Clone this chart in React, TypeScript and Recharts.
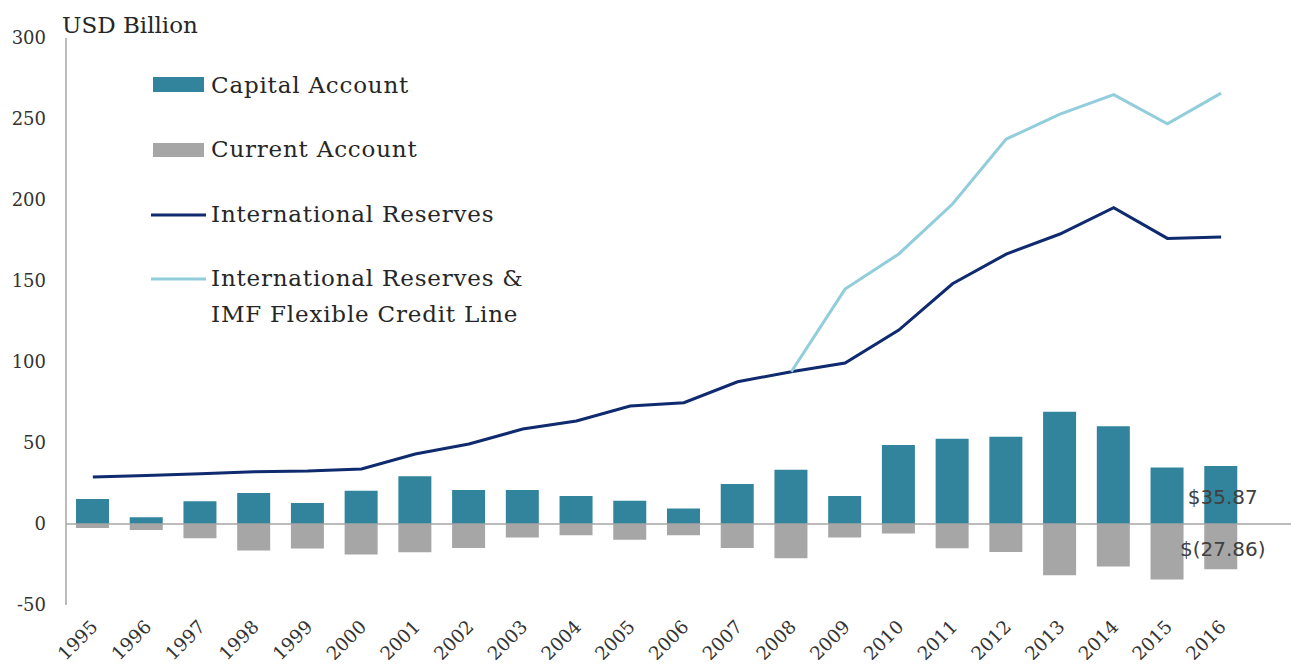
import { ComposedChart, Bar, Line, XAxis, YAxis, ReferenceLine, Legend } from 'recharts'

const years = ['1995', '1996', '1997', '1998', '1999', '2000', '2001', '2002', '2003', '2004', '2005', '2006', '2007', '2008', '2009', '2010', '2011', '2012', '2013', '2014', '2015', '2016']
const capitalAccount = [15.4, 4.1, 14, 19.1, 13, 20.6, 29.4, 21, 21, 17.3, 14.4, 9.5, 24.7, 33.5, 17.3, 48.8, 52.7, 53.9, 69.3, 60.3, 34.8, 35.87]
const currentAccount = [-2.5, -3.7, -8.8, -16.3, -15.2, -18.9, -17.5, -14.8, -8.4, -7, -9.7, -7, -14.8, -21.2, -8.4, -5.8, -15, -17.3, -31.7, -26.3, -34.2, -27.86]
const reserves = [29, 30, 31, 32.3, 32.7, 34, 43.2, 49.4, 58.6, 63.6, 72.8, 74.9, 87.8, 94, 99.4, 119.7, 148.3, 166.6, 179, 195.2, 176.3, 177.2]
const reservesFcl = [null, null, null, null, null, null, null, null, null, null, null, null, null, 94, 145, 166.7, 197.5, 237.6, 253, 265, 247, 266]
const yTicks = [-50, 0, 50, 100, 150, 200, 250, 300]

const data = years.map((year, i) => ({
  year,
  capital: capitalAccount[i],
  current: currentAccount[i],
  reserves: reserves[i],
  fcl: reservesFcl[i],
}))

const SERIF = "'DejaVu Serif', serif"
const TEAL = '#31849b'
const GREY = '#a6a6a6'
const NAVY = '#0f2a6e'
const LIGHT = '#92cddc'
const last = years.length - 1

// rotated year labels, anchored at their top-right end
const XTick = ({ x, y, payload }: any) => (
  <text
    x={x + 6}
    y={y + 15}
    textAnchor='end'
    fontFamily={SERIF}
    fontSize={18.5}
    fill='#333'
    transform={`rotate(-45, ${x + 6}, ${y + 15})`}
  >
    {payload.value}
  </text>
)

const endLabel = (fmt: (v: number) => string) => (props: any) => {
  const { x, y, width, height, index, value } = props
  if (index !== last) return null
  const top = Math.min(y, y + height)
  const cy = top + Math.abs(height) / 2 + 2
  return (
    <text x={x + width / 2 + 2} y={cy} textAnchor='middle' dominantBaseline='central' fontFamily="'DejaVu Sans', sans-serif" fontSize={20} fill='#404040'>
      {fmt(value)}
    </text>
  )
}

const renderLegend = () => (
  <svg width={420} height={270} style={{ display: 'block' }}>
    <g fontFamily={SERIF} fontSize={23} fill='#262626' letterSpacing={0.8}>
      <rect x={3} y={7} width={51} height={15} fill={TEAL} />
      <text x={61} y={23}>Capital Account</text>
      <rect x={3} y={73} width={51} height={14} fill={GREY} />
      <text x={61} y={87}>Current Account</text>
      <line x1={1} x2={56} y1={145} y2={145} stroke={NAVY} strokeWidth={3} />
      <text x={61} y={152}>International Reserves</text>
      <line x1={1} x2={56} y1={209} y2={209} stroke={LIGHT} strokeWidth={3} />
      <text x={61} y={216}>International Reserves &amp;</text>
      <text x={61} y={252}>IMF Flexible Credit Line</text>
    </g>
  </svg>
)

export default function App() {
  return (
    <div style={{ position: 'absolute', left: 0, top: 0 }}>
      <ComposedChart width={1291} height={667} data={data} stackOffset='sign' margin={{ top: 38, right: 0, bottom: 0, left: 0 }}>
        <XAxis dataKey='year' height={62} axisLine={false} tickLine={false} interval={0} padding={{ left: 0, right: 43 }} tick={<XTick />} />
        <YAxis
          width={66}
          domain={[-50, 300]}
          ticks={yTicks}
          interval={0}
          tickLine={false}
          axisLine={{ stroke: GREY, strokeWidth: 1.5 }}
          tickMargin={14}
          tick={{ fontFamily: SERIF, fontSize: 18, fill: '#333' }}
          label={{
            content: () => (
              <text x={62} y={33} fontFamily={SERIF} fontSize={23} fill='#262626'>
                USD Billion
              </text>
            ),
          }}
        />
        <ReferenceLine y={0} stroke={GREY} strokeWidth={1.5} />
        <Bar dataKey='capital' name='Capital Account' stackId='a' fill={TEAL} barSize={33} isAnimationActive={false} label={endLabel((v) => `$${v.toFixed(2)}`)} />
        <Bar dataKey='current' name='Current Account' stackId='a' fill={GREY} barSize={33} isAnimationActive={false} label={endLabel((v) => `$(${Math.abs(v).toFixed(2)})`)} />
        <Line dataKey='reserves' name='International Reserves' type='linear' stroke={NAVY} strokeWidth={3} dot={false} isAnimationActive={false} />
        <Line dataKey='fcl' name='International Reserves & IMF Flexible Credit Line' type='linear' stroke={LIGHT} strokeWidth={3} dot={false} isAnimationActive={false} />
        <Legend layout='vertical' align='center' verticalAlign='middle' content={renderLegend} wrapperStyle={{ left: 150, top: 70, width: 420, height: 270 }} />
      </ComposedChart>
    </div>
  )
}
